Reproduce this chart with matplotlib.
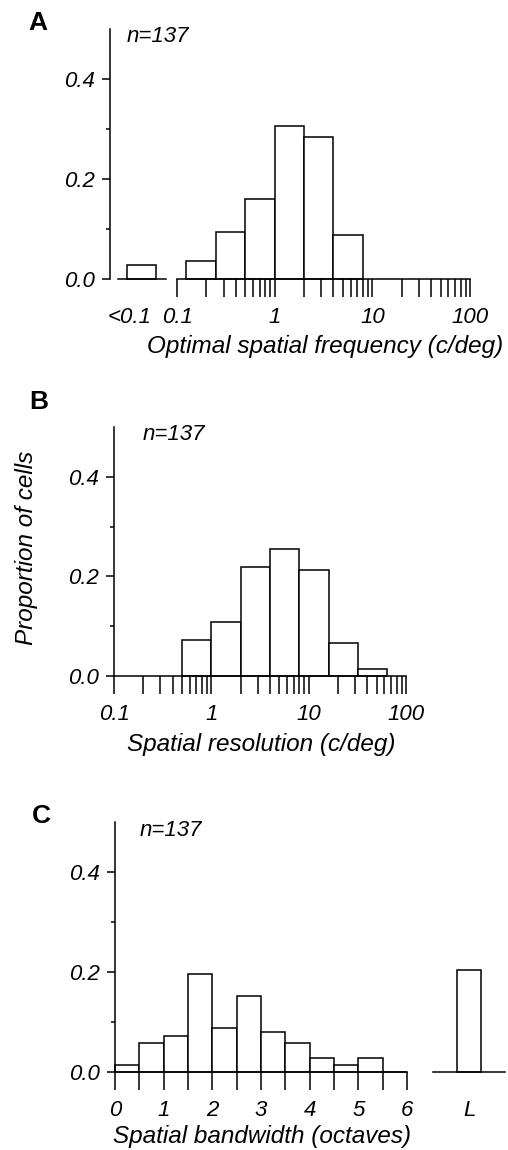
import numpy as np
import matplotlib
matplotlib.use('Agg')
import matplotlib.pyplot as plt
from matplotlib.ticker import FixedLocator, NullFormatter, LogLocator

# ---------------- data ----------------
n_cells = 137
y_ticks = [0.0, 0.2, 0.4]
y_tick_labels = ['0.0', '0.2', '0.4']
y_minor_ticks = [0.1, 0.3]

# Panel A: optimal spatial frequency (c/deg), octave bins
sf_edges = [0.125, 0.25, 0.5, 1, 2, 4, 8]
sf_props = [0.036, 0.095, 0.161, 0.307, 0.285, 0.088]
sf_low_label = '<0.1'
sf_low_prop = 0.029
sf_ticks = [0.1, 1, 10, 100]
sf_tick_labels = ['0.1', '1', '10', '100']

# Panel B: spatial resolution (c/deg), octave bins
res_edges = [0.5, 1, 2, 4, 8, 16, 32, 64]
res_props = [0.073, 0.109, 0.219, 0.255, 0.212, 0.066, 0.015]
res_ticks = [0.1, 1, 10, 100]
res_tick_labels = ['0.1', '1', '10', '100']

# Panel C: spatial bandwidth (octaves), half-octave bins
bw_edges = [0, 0.5, 1, 1.5, 2, 2.5, 3, 3.5, 4, 4.5, 5, 5.5, 6]
bw_props = [0.015, 0.058, 0.073, 0.197, 0.088, 0.153, 0.080, 0.058, 0.029, 0.015, 0.029, 0.0]
bw_ticks = [0, 1, 2, 3, 4, 5, 6]
bw_tick_labels = ['0', '1', '2', '3', '4', '5', '6']
bw_minor_ticks = [0.5, 1.5, 2.5, 3.5, 4.5, 5.5]
bw_low_label = 'L'
bw_low_prop = 0.204

labels_x = ['Optimal spatial frequency (c/deg)',
            'Spatial resolution (c/deg)',
            'Spatial bandwidth (octaves)']
label_y = 'Proportion of cells'
panel_letters = ['A', 'B', 'C']

# ---------------- style ----------------
plt.rcParams['font.family'] = ['Liberation Sans', 'DejaVu Sans']
plt.rcParams['font.style'] = 'italic'

W, H = 508, 1150
fig = plt.figure(figsize=(W / 100, H / 100), dpi=100)

LW = 1.1
TICK_LONG = 12.6
TICK_PAD = 7.5
FS_TICK = 16
FS_LABEL = 17.5
FS_N = 16
FS_LETTER = 19


def add_ax(x0, x1, y_top, y_bot):
    return fig.add_axes([x0 / W, 1 - y_bot / H, (x1 - x0) / W, (y_bot - y_top) / H])


def ftext(x, y, s, **kw):
    fig.text(x / W, 1 - y / H, s, **kw)


def base(ax):
    for s in ['top', 'right']:
        ax.spines[s].set_visible(False)
    for s in ['left', 'bottom']:
        ax.spines[s].set_linewidth(LW)
    ax.set_ylim(0, 0.5)
    ax.patch.set_alpha(0)


def yaxis_on(ax):
    ax.spines['left'].set_bounds(0, 0.5)
    ax.set_yticks(y_ticks)
    ax.set_yticklabels(y_tick_labels)
    ax.yaxis.set_minor_locator(FixedLocator(y_minor_ticks))
    ax.tick_params(axis='y', which='major', direction='out', length=5.8,
                   width=LW, pad=5, labelsize=FS_TICK)
    ax.tick_params(axis='y', which='minor', direction='out', length=3, width=LW)


def yaxis_off(ax):
    ax.spines['left'].set_visible(False)
    ax.tick_params(axis='y', which='both', left=False, labelleft=False)


def xticks_style(ax):
    ax.tick_params(axis='x', which='both', direction='out', length=TICK_LONG,
                   width=LW, pad=TICK_PAD, labelsize=FS_TICK)


def bars(ax, edges, props):
    e = np.asarray(edges, dtype=float)
    ax.bar(e[:-1], props, width=np.diff(e), align='edge', facecolor='white',
           edgecolor='black', linewidth=LW, clip_on=False)


def side_bar(ax, label, prop, xlim, spine_from):
    base(ax)
    ax.set_xlim(*xlim)
    ax.bar([0], [prop], width=1, facecolor='white', edgecolor='black',
           linewidth=LW, clip_on=False)
    ax.spines['bottom'].set_bounds(spine_from, xlim[1])


# ---------------- Panel A ----------------
axA0 = add_ax(109.5, 166, 29, 279)
side_bar(axA0, sf_low_label, sf_low_prop, (-1.12, 0.845), -0.81)
yaxis_on(axA0)
axA0.set_xticks([-0.41])
axA0.set_xticklabels([sf_low_label])
axA0.tick_params(axis='x', length=0, pad=TICK_LONG + TICK_PAD, labelsize=FS_TICK)

axA = add_ax(177, 470, 29, 279)
base(axA)
yaxis_off(axA)
axA.set_xscale('log')
axA.set_xlim(0.1, 100)
bars(axA, sf_edges, sf_props)
axA.xaxis.set_major_locator(FixedLocator(sf_ticks))
axA.set_xticklabels(sf_tick_labels)
axA.xaxis.set_minor_locator(LogLocator(base=10, subs=np.arange(2, 10)))
axA.xaxis.set_minor_formatter(NullFormatter())
xticks_style(axA)

# ---------------- Panel B ----------------
axB = add_ax(114, 406, 427, 676)
base(axB)
yaxis_on(axB)
axB.set_xscale('log')
axB.set_xlim(0.1, 100)
bars(axB, res_edges, res_props)
axB.xaxis.set_major_locator(FixedLocator(res_ticks))
axB.set_xticklabels(res_tick_labels)
axB.xaxis.set_minor_locator(LogLocator(base=10, subs=np.arange(2, 10)))
axB.xaxis.set_minor_formatter(NullFormatter())
xticks_style(axB)

# ---------------- Panel C ----------------
axC = add_ax(115, 407, 822, 1072)
base(axC)
yaxis_on(axC)
axC.set_xlim(0, 6)
bars(axC, bw_edges, bw_props)
axC.set_xticks(bw_ticks)
axC.set_xticklabels(bw_tick_labels)
axC.xaxis.set_minor_locator(FixedLocator(bw_minor_ticks))
xticks_style(axC)

axC1 = add_ax(433, 505, 822, 1072)
side_bar(axC1, bw_low_label, bw_low_prop, (-1.5, 1.5), -1.5)
yaxis_off(axC1)
axC1.set_xticks([0])
axC1.set_xticklabels([bw_low_label])
axC1.tick_params(axis='x', length=0, pad=TICK_LONG + TICK_PAD, labelsize=FS_TICK)

# ---------------- texts ----------------
for (x, y), s in zip([(38, 23), (39, 402), (41, 816)], panel_letters):
    ftext(x, y, s, fontsize=FS_LETTER, fontweight='bold', fontstyle='normal',
          ha='center', va='center')

for (x, y) in [(127, 36), (143, 435), (140, 830)]:
    ftext(x, y, f'n={n_cells}', fontsize=FS_N, ha='left', va='center')

for (x, y), s in zip([(325, 346), (261, 744), (262, 1137)], labels_x):
    ftext(x, y, s, fontsize=FS_LABEL, ha='center', va='center')

ftext(27, 548, label_y, fontsize=FS_LABEL, rotation=90, ha='center', va='center')

fig.savefig('out.png', dpi=100)
